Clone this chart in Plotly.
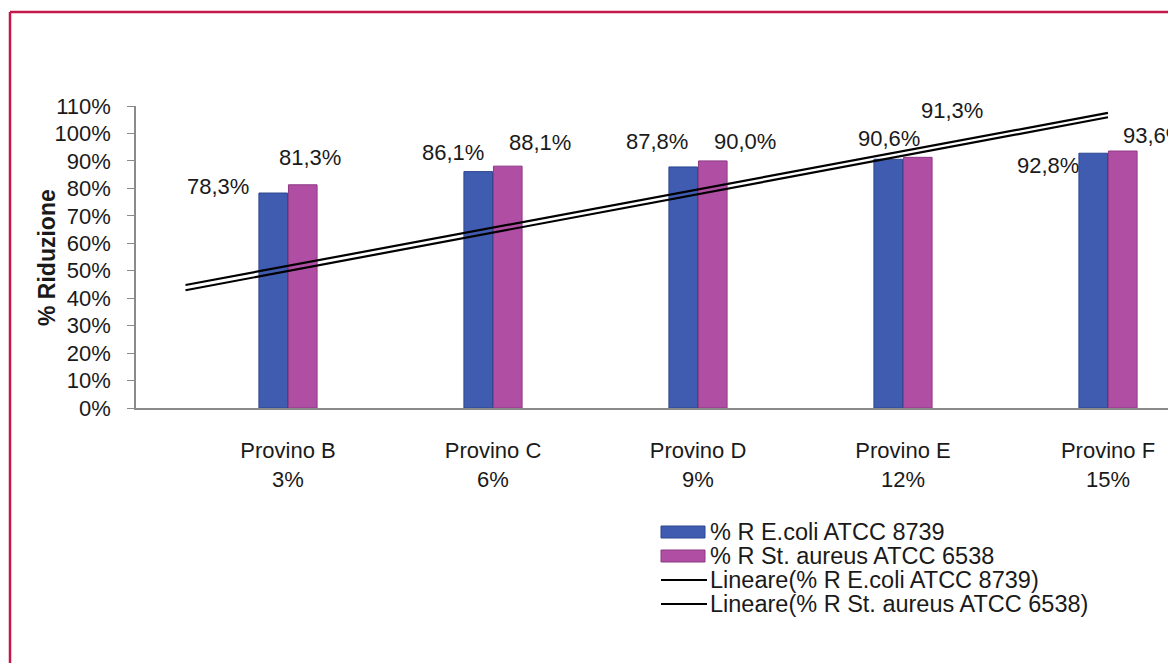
import plotly.graph_objects as go

# --- data -------------------------------------------------------------
categories = ["Provino B<br>3%", "Provino C<br>6%", "Provino D<br>9%",
              "Provino E<br>12%", "Provino F<br>15%"]
ecoli = [78.3, 86.1, 87.8, 90.6, 92.8]
aureus = [81.3, 88.1, 90.0, 91.3, 93.6]
series_names = ["% R E.coli ATCC 8739", "% R St. aureus ATCC 6538",
                "Lineare(% R E.coli ATCC 8739)", "Lineare(% R St. aureus ATCC 6538)"]
# linear trend lines, evaluated at the two ends of their span (category units)
trend_x = [-0.5, 4.0]
trend_ecoli = [42.9, 105.9]
trend_aureus = [44.8, 107.5]
y_ticks = list(range(0, 111, 10))

# --- styling ----------------------------------------------------------
W, H = 1168, 663
ML, MT, MB = 136, 106, 255
PW, PH = W - ML, H - MT - MB
FONT = "Liberation Sans, Arial, sans-serif"
BLUE, BLUE_EDGE = "#405cb0", "#2c468f"
MAG, MAG_EDGE = "#b04ea4", "#8d3983"
TXT = "#1a1a1a"
BORDER = "#c4184a"

# pixel offsets of the value labels relative to the top of each bar
ecoli_label_shift = [(-55, 7), (-25, 19), (-26, 25), (1, 21), (-45, -12)]
aureus_label_shift = [(7, 27), (32, 24), (32, 19), (34, 47), (31, 16)]


def px(x):
    return (x - ML) / PW


def py(y):
    return (H - MB - y) / PH


xs = list(range(len(categories)))
fig = go.Figure()
fig.add_bar(x=xs, y=ecoli, name=series_names[0], marker_color=BLUE,
            marker_line=dict(color=BLUE_EDGE, width=1), showlegend=False)
fig.add_bar(x=xs, y=aureus, name=series_names[1], marker_color=MAG,
            marker_line=dict(color=MAG_EDGE, width=1), showlegend=False)
fig.add_scatter(x=trend_x, y=trend_ecoli, mode="lines", name=series_names[2],
                line=dict(color="black", width=2.2), showlegend=False, cliponaxis=False)
fig.add_scatter(x=trend_x, y=trend_aureus, mode="lines", name=series_names[3],
                line=dict(color="black", width=2.2), showlegend=False, cliponaxis=False)

annotations = []


def fmt(v):
    return f"{v:.1f}".replace(".", ",") + "%"


for vals, shifts, dx in ((ecoli, ecoli_label_shift, -0.073),
                         (aureus, aureus_label_shift, 0.073)):
    for i, (v, (sx, sy)) in enumerate(zip(vals, shifts)):
        annotations.append(dict(x=i + dx, y=v, xref="x", yref="y", text=fmt(v),
                                showarrow=False, xanchor="center", yanchor="middle",
                                xshift=sx, yshift=sy,
                                font=dict(family=FONT, size=22, color=TXT)))

# y-axis title
annotations.append(dict(x=px(47), y=py(258), xref="paper", yref="paper",
                        text="<b>% Riduzione</b>", textangle=-90, showarrow=False,
                        xanchor="center", yanchor="middle",
                        font=dict(family=FONT, size=23, color=TXT)))

# legend
shapes = []
legend_rows = [532, 556, 580, 604]
for k, (name, row) in enumerate(zip(series_names, legend_rows)):
    if k < 2:
        fill, edge = (BLUE, BLUE_EDGE) if k == 0 else (MAG, MAG_EDGE)
        shapes.append(dict(type="rect", xref="paper", yref="paper",
                           x0=px(661), x1=px(705), y0=py(row + 6), y1=py(row - 6),
                           fillcolor=fill, line=dict(color=edge, width=1)))
    else:
        shapes.append(dict(type="line", xref="paper", yref="paper",
                           x0=px(661), x1=px(707), y0=py(row), y1=py(row),
                           line=dict(color="black", width=2)))
    annotations.append(dict(x=px(708), y=py(row), xref="paper", yref="paper",
                            text=name, showarrow=False, xanchor="left",
                            yanchor="middle",
                            font=dict(family=FONT, size=23.5, color=TXT)))

# frame around the figure
shapes.append(dict(type="line", xref="paper", yref="paper",
                   x0=px(10), x1=px(W + 5), y0=py(12), y1=py(12),
                   line=dict(color=BORDER, width=2.5)))
shapes.append(dict(type="line", xref="paper", yref="paper",
                   x0=px(10), x1=px(10), y0=py(12), y1=py(H + 5),
                   line=dict(color=BORDER, width=2.5)))

fig.update_layout(
    width=W, height=H,
    margin=dict(l=ML, r=0, t=MT, b=MB, autoexpand=False),
    paper_bgcolor="white", plot_bgcolor="white",
    barmode="group", bargap=0.712, bargroupgap=0.03,
    showlegend=False,
    annotations=annotations, shapes=shapes,
    font=dict(family=FONT, size=22, color=TXT),
)
fig.update_xaxes(
    range=[-(288 - ML) / 205, (W - 288) / 205],
    tickmode="array", tickvals=xs, ticktext=categories,
    showline=True, linecolor="#8a8a8a", linewidth=1.5,
    showgrid=False, zeroline=False, ticks="",
    ticklabelstandoff=22,
    tickfont=dict(family=FONT, size=22, color=TXT),
)
fig.update_yaxes(
    range=[0, 110], tickmode="array", tickvals=y_ticks,
    ticktext=[f"{t}%" for t in y_ticks],
    showline=True, linecolor="#8a8a8a", linewidth=1.5,
    ticks="outside", ticklen=7, tickcolor="#8a8a8a",
    showgrid=False, zeroline=False,
    ticklabelstandoff=12,
    tickfont=dict(family=FONT, size=22, color=TXT),
)

fig.write_html("out.html")
